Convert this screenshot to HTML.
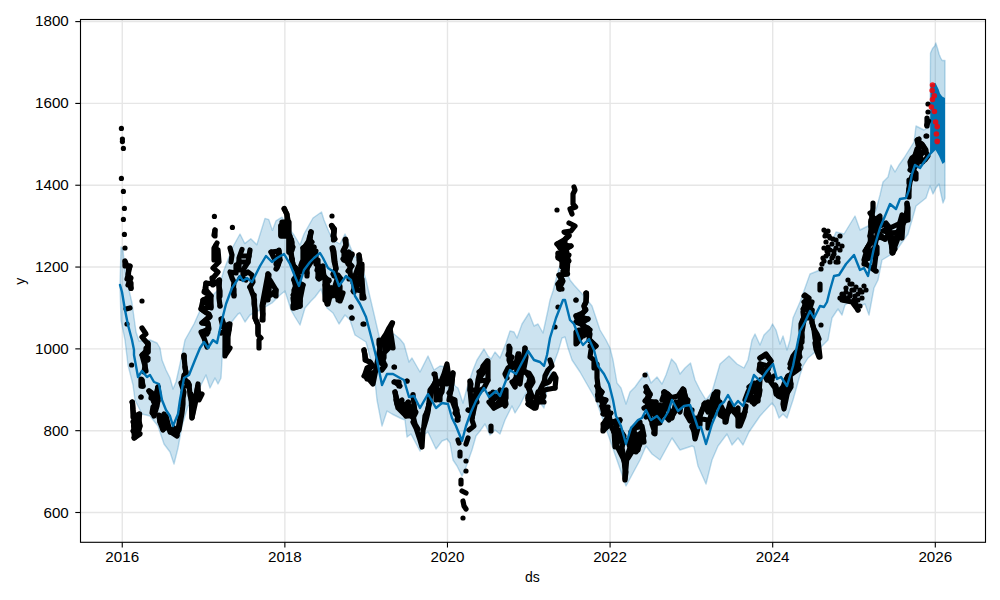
<!DOCTYPE html><html><head><meta charset="utf-8"><style>
html,body{margin:0;padding:0;background:#fff;width:1000px;height:600px;overflow:hidden}
svg{display:block}
text{font-family:"Liberation Sans",sans-serif;font-size:14px;fill:#000}
</style></head><body>
<svg width="1000" height="600" viewBox="0 0 1000 600">
<rect x="0" y="0" width="1000" height="600" fill="#fff"/>
<g stroke="#e6e6e6" stroke-width="1.39"><line x1="122.25" y1="19.5" x2="122.25" y2="542.3"/><line x1="284.86" y1="19.5" x2="284.86" y2="542.3"/><line x1="447.47" y1="19.5" x2="447.47" y2="542.3"/><line x1="610.08" y1="19.5" x2="610.08" y2="542.3"/><line x1="772.69" y1="19.5" x2="772.69" y2="542.3"/><line x1="935.30" y1="19.5" x2="935.30" y2="542.3"/><line x1="80.5" y1="512.50" x2="985.5" y2="512.50"/><line x1="80.5" y1="430.68" x2="985.5" y2="430.68"/><line x1="80.5" y1="348.87" x2="985.5" y2="348.87"/><line x1="80.5" y1="267.05" x2="985.5" y2="267.05"/><line x1="80.5" y1="185.23" x2="985.5" y2="185.23"/><line x1="80.5" y1="103.42" x2="985.5" y2="103.42"/><line x1="80.5" y1="21.60" x2="985.5" y2="21.60"/></g>
<polygon points="121.0,247.0 123.0,250.0 125.0,270.0 129.0,290.0 132.0,303.0 136.0,332.0 139.0,341.0 150.0,340.0 157.0,343.0 160.0,348.0 162.0,360.0 166.0,370.0 170.0,378.0 173.0,389.0 176.0,382.0 182.0,355.0 185.0,340.0 194.0,324.0 202.0,306.0 218.0,290.0 224.0,270.0 232.8,247.0 240.0,234.0 244.8,243.6 250.8,238.8 256.8,244.8 265.0,218.4 268.8,219.6 272.4,230.4 276.0,220.8 282.0,217.2 286.8,225.6 294.0,235.0 300.0,245.0 304.0,234.0 313.0,218.0 321.5,212.0 324.0,220.0 329.0,232.0 333.0,240.0 340.0,244.0 345.0,234.0 348.0,241.0 354.0,256.0 360.0,260.0 366.0,280.0 374.0,314.0 380.0,340.0 394.0,334.0 400.0,339.0 404.0,344.0 409.0,362.0 412.0,358.0 420.0,372.0 428.0,356.0 434.0,370.0 440.0,366.0 446.0,367.0 452.0,378.0 455.0,386.0 458.0,388.0 463.0,403.0 467.0,388.0 473.0,370.0 477.0,360.0 484.0,349.0 488.0,356.0 491.0,359.0 495.0,352.0 500.0,358.0 506.0,343.0 510.0,331.0 514.0,332.0 517.0,338.0 522.0,324.0 529.0,313.0 534.0,326.0 538.0,324.0 543.0,333.0 548.0,310.0 550.0,300.0 553.0,291.0 559.0,268.0 566.0,269.0 570.0,280.0 574.0,285.0 584.0,296.0 592.0,306.0 600.0,330.0 606.0,340.0 610.0,348.0 613.0,360.0 617.0,383.0 621.0,388.0 626.0,404.0 630.0,392.0 635.0,387.0 640.0,380.0 647.0,372.0 651.0,383.0 657.0,377.0 662.0,384.0 666.0,375.0 671.5,359.0 676.0,364.0 680.0,374.0 685.0,368.0 690.5,363.0 695.0,380.0 700.0,390.0 706.0,400.0 712.0,392.0 720.0,364.0 729.0,356.0 737.0,364.0 744.0,368.0 748.0,360.0 752.0,340.0 755.0,334.0 760.0,345.0 764.0,335.0 770.0,329.0 772.5,324.0 776.0,330.0 780.0,344.0 783.0,336.0 787.0,350.0 790.0,340.0 793.0,318.0 800.0,302.0 810.0,274.0 820.0,270.0 836.0,232.0 844.0,234.0 855.0,216.0 860.0,230.0 868.0,226.0 876.0,210.0 880.0,195.0 883.0,182.0 888.0,177.0 891.0,165.0 895.0,172.0 899.0,165.0 904.0,158.0 914.0,142.0 916.0,126.0 920.0,128.0 924.0,130.0 930.0,126.0 930.5,53.0 932.5,48.5 934.7,46.0 935.8,43.0 937.7,49.0 939.2,54.5 940.7,58.0 942.2,60.5 945.0,60.5 945.0,198.0 943.0,203.0 941.0,194.0 939.0,184.0 936.0,188.0 933.0,194.0 930.0,186.0 930.0,186.0 926.0,198.0 916.0,206.0 908.0,234.0 898.0,248.0 892.0,254.0 882.0,260.0 878.0,280.0 874.0,288.0 869.0,315.0 865.0,304.0 862.0,305.0 856.0,305.0 850.0,302.0 845.0,305.0 842.0,315.0 838.0,309.0 832.0,318.0 828.0,340.0 820.0,348.0 808.0,358.0 803.0,366.0 800.0,375.0 793.0,400.0 787.0,418.0 783.0,414.0 779.0,418.0 775.0,407.0 772.0,403.0 760.0,416.0 749.0,432.0 743.0,445.0 738.0,438.0 732.0,445.0 727.0,434.0 718.0,446.0 712.0,460.0 706.0,484.0 698.0,466.0 694.0,447.0 692.0,446.0 680.0,450.0 672.0,438.0 660.0,460.0 652.0,454.0 646.0,446.0 640.0,460.0 626.0,486.0 610.0,440.0 596.0,400.0 580.0,372.0 572.0,360.0 568.0,348.0 565.0,337.0 562.0,338.0 558.0,352.0 552.0,368.0 549.0,380.0 547.0,390.0 544.0,408.0 538.0,400.0 533.0,396.0 530.0,390.0 526.0,393.0 520.0,405.0 515.0,413.0 512.0,406.0 505.0,420.0 500.0,434.0 495.0,430.0 490.0,435.0 485.0,424.0 480.0,431.0 476.0,436.0 472.0,450.0 466.0,467.0 462.0,476.0 457.0,466.0 453.0,460.0 450.0,443.0 447.0,439.0 442.0,441.0 436.0,449.0 428.0,432.0 425.0,434.0 420.0,451.0 411.0,434.0 407.0,437.0 405.0,420.0 400.0,418.0 392.0,414.0 387.0,411.0 382.0,426.0 377.0,400.0 374.0,372.0 366.0,342.0 355.0,335.0 350.0,320.0 345.0,315.0 339.0,324.0 333.0,313.0 327.0,308.0 321.0,289.0 315.0,297.0 311.0,301.0 305.0,308.0 300.0,325.0 295.0,317.0 291.0,310.0 285.0,291.0 280.0,295.0 272.0,303.0 260.0,310.0 250.0,315.0 245.0,322.0 240.0,313.0 238.0,314.0 230.0,324.0 224.0,340.0 222.0,360.0 221.0,378.0 218.0,384.0 215.0,378.0 210.0,388.0 206.0,375.0 200.0,387.0 196.0,400.0 188.0,406.0 182.0,426.0 178.0,448.0 174.0,464.0 170.0,452.0 164.0,444.0 158.0,426.0 150.0,416.0 142.0,414.0 135.0,400.0 133.0,385.0 128.0,365.0 125.0,340.0 121.0,320.0 120.0,286.0" fill="#0072B2" fill-opacity="0.2" stroke="#0072B2" stroke-opacity="0.25" stroke-width="1.4" stroke-linejoin="round"/>
<polygon points="930.5,53.0 932.5,48.5 934.7,46.0 935.8,43.0 937.7,49.0 939.2,54.5 940.7,58.0 942.2,60.5 945.0,60.5 945.0,198.0 943.0,203.0 941.0,194.0 939.0,184.0 936.0,188.0 933.0,194.0 930.0,186.0" fill="#0072B2" fill-opacity="0.05"/>
<polygon points="930.5,84.5 935.5,83.0 938.5,89.0 940.0,93.5 942.2,96.5 945.0,98.0 945.0,162.0 942.5,164.0 939.0,156.0 935.0,149.0 930.0,155.0" fill="#0072B2"/>
<g fill="#000" stroke="#000" stroke-width="5.2" stroke-linejoin="round" stroke-linecap="round"><polyline points="125.0,261.0 127.0,266.0 130.0,266.0 128.0,274.0 130.0,279.0 129.0,283.0 131.0,288.0" fill="none"/><polyline points="130.0,308.0 126.0,309.0" fill="none"/><polyline points="142.0,328.0 146.0,334.0 142.0,337.0 148.0,344.0 148.0,352.0 143.0,355.0 148.0,360.0" fill="none"/><polyline points="217.0,243.0 214.0,248.0 214.0,260.0 218.0,250.0 219.0,262.0 213.0,268.0 218.0,272.0 213.0,278.0 213.0,285.0 219.6,280.0 219.0,287.0 219.0,298.0 220.0,306.0" fill="none"/><polyline points="206.0,283.0 206.0,290.0 211.0,296.0 211.0,308.0 203.0,300.0 201.0,309.0 208.0,314.0 210.0,316.0 202.0,323.0 208.0,324.0 208.0,332.0 201.0,332.0 204.0,338.0 207.0,347.0" fill="none"/><polyline points="222.0,319.0 225.0,328.0 225.0,356.0 230.0,324.0 228.0,336.0 228.0,348.0" fill="none"/><polyline points="242.0,249.5 239.0,258.0 239.0,270.0 236.0,265.0 236.0,273.0 230.0,272.0 232.0,278.0 234.0,282.0 233.0,292.0 234.0,295.0" fill="none"/><polyline points="250.0,250.0 249.0,256.0 248.0,262.0 243.0,270.0 243.0,275.0 248.0,272.0 252.0,275.0 253.0,282.0 250.0,287.0" fill="none"/><polyline points="239.0,262.0 248.0,262.0" fill="none"/><polyline points="243.0,256.0 249.0,256.0" fill="none"/><polyline points="240.0,278.0 246.0,280.0" fill="none"/><polyline points="271.0,252.0 274.0,258.0 280.0,260.0 279.0,250.0" fill="none"/><polyline points="278.0,265.0 276.0,269.0" fill="none"/><polyline points="268.0,274.0 269.0,280.0 270.0,283.0 267.0,290.0 268.0,296.0" fill="none"/><polyline points="276.0,290.0 275.0,295.0" fill="none"/><polyline points="230.0,248.0 232.0,255.0 231.0,262.0" fill="none"/><polyline points="250.0,287.0 253.0,295.0 254.5,300.0 254.5,303.0 255.0,311.0 255.0,318.0 258.0,325.0 258.0,335.0 261.0,338.0" fill="none"/><polyline points="263.0,314.0 263.0,320.0 262.0,306.0 268.0,274.0 268.0,300.0 270.0,280.0 276.0,290.0 276.0,296.0" fill="none"/><polyline points="271.0,252.0 279.0,251.0 276.0,264.0 280.0,260.0 277.0,268.0" fill="none"/><polyline points="290.0,240.0 290.0,250.0 292.0,259.0 293.0,266.0 297.0,270.0 297.0,286.0 294.0,290.0 294.0,308.0 300.0,306.0 300.0,290.0" fill="none"/><polyline points="303.0,248.0 303.0,266.0 307.0,252.0 307.0,276.0" fill="none"/><polyline points="215.0,230.0 214.0,235.0" fill="none"/><polyline points="284.4,208.4 287.0,215.0 288.0,220.0 287.0,224.0 281.0,226.0 281.0,236.0 290.0,236.0" fill="none"/><polyline points="284.0,209.0 287.0,214.0 287.0,226.0" fill="none"/><polyline points="289.0,236.0 289.0,252.0 292.0,242.0 292.0,250.0" fill="none"/><polyline points="292.0,259.0 293.0,265.0 297.0,269.0 297.0,276.0 294.0,280.0 296.0,288.0 296.0,296.0 293.0,298.0 294.0,306.0 300.0,306.0 300.0,300.0 303.0,285.0" fill="none"/><polyline points="311.0,232.0 310.0,239.0 304.0,248.0 308.0,248.0 308.0,262.0 314.0,248.0 304.0,262.0 301.0,266.0 301.0,272.0 306.0,270.0 316.0,254.0 316.0,264.0 318.0,260.0 318.0,268.0 318.0,277.0 320.0,266.0 320.0,274.0 323.0,266.0 323.0,276.0" fill="none"/><polyline points="325.0,280.0 325.0,300.0 328.0,286.0 328.0,304.0 332.0,288.0 332.0,296.0 338.0,276.0 338.0,300.0 340.0,286.0 340.0,300.0" fill="none"/><polyline points="332.0,226.0 334.0,230.0 334.0,238.0" fill="none"/><polyline points="333.0,248.0 334.0,252.0 335.0,262.0 336.0,268.0 334.0,276.0" fill="none"/><polyline points="346.0,240.0 346.0,246.0 344.0,250.0 344.0,260.0 349.0,252.0 349.0,262.0 352.0,254.0 348.0,264.0 350.0,266.0 350.0,272.0 351.0,278.0 354.0,276.0 354.0,292.0" fill="none"/><polyline points="359.0,255.0 359.0,260.0 360.0,266.0 360.0,280.0 362.0,264.0 362.0,270.0 361.0,280.0 361.0,284.0 357.0,284.0 357.0,290.0 362.0,291.0 362.0,298.0" fill="none"/><polyline points="148.0,343.0 148.0,352.0 146.0,348.0 146.0,360.0 142.0,355.0 145.0,366.0 144.0,372.0" fill="none"/><polyline points="141.0,379.0 141.0,386.0 143.0,386.0" fill="none"/><polyline points="149.0,391.0 151.0,394.0 153.0,400.0 155.0,404.0 153.0,412.0 154.0,416.0 157.0,406.0 159.0,394.0 158.0,387.0" fill="none"/><polyline points="132.4,402.0 133.0,410.0 134.0,418.0 133.6,426.0 134.4,438.0 138.0,434.0 140.0,426.0 139.0,420.0 139.6,414.0" fill="none"/><polyline points="159.0,416.0 160.0,422.0 163.0,430.0 166.0,416.0 168.0,424.0 170.0,432.0 174.0,428.0 177.0,435.0 179.0,424.0 181.0,412.0" fill="none"/><polyline points="183.0,392.0 182.0,404.0" fill="none"/><polyline points="184.0,356.0 185.0,367.0 186.0,373.0 184.0,378.0 187.0,382.0 187.0,386.0 189.0,385.0" fill="none"/><polyline points="191.0,394.0 192.0,418.0 194.0,404.0 198.0,386.0 199.0,400.0 202.0,394.0" fill="none"/><polyline points="227.0,340.0 226.0,354.0 230.0,348.0" fill="none"/><polyline points="259.0,340.0 259.0,348.0" fill="none"/><polyline points="364.0,350.0 365.0,356.0 366.0,360.0 370.0,362.0 372.0,366.0 364.0,376.0 368.0,378.0 373.0,384.0 375.0,374.0 378.0,358.0 380.0,348.0 382.0,340.0 386.0,334.0 389.0,328.0 392.0,323.0" fill="none"/><polyline points="380.0,352.0 383.0,360.0 385.0,366.0 382.0,370.0" fill="none"/><polyline points="390.0,328.0 393.0,348.0" fill="none"/><polyline points="394.0,382.0 399.0,382.0 399.0,386.0" fill="none"/><polyline points="395.0,392.0 397.0,400.0 400.0,404.0 404.0,409.0 408.0,414.0 412.0,416.0 415.0,412.0 413.0,396.0" fill="none"/><polyline points="426.0,416.0 429.0,404.0 432.0,390.0 436.0,380.0 440.0,384.0 444.0,374.0 447.0,364.0 449.0,378.0 453.0,373.0 451.0,390.0 449.0,400.0 454.0,400.0 457.0,412.0 458.0,420.0" fill="none"/><polyline points="436.0,384.0 436.0,400.0" fill="none"/><polyline points="440.0,390.0 440.0,400.0" fill="none"/><polyline points="470.0,382.0 470.0,390.0 472.0,410.0 476.0,396.0 478.0,380.0 480.0,372.0 484.0,366.0 488.0,361.0 488.0,380.0 484.0,388.0 478.0,392.0 472.0,418.0" fill="none"/><polyline points="490.0,394.0 494.0,408.0 500.0,400.0 504.0,392.0 506.0,404.0" fill="none"/><polyline points="510.0,348.0 509.0,360.0 512.0,368.0 516.0,364.0 518.0,354.0 516.0,380.0 520.0,384.0 525.0,348.0 524.0,360.0 523.0,368.0" fill="none"/><polyline points="526.0,372.0 530.0,378.0 528.0,386.0 532.0,396.0 528.0,404.0 534.0,408.0 538.0,392.0" fill="none"/><polyline points="396.0,400.0 398.0,408.0 402.0,412.0 406.0,416.0 412.0,416.0 415.0,412.0 410.0,410.0 406.0,404.0" fill="none"/><polyline points="413.0,422.0 416.0,428.0 418.0,434.0 420.0,440.0 422.0,447.0 423.0,430.0 426.0,420.0 428.0,412.0 429.0,404.0" fill="none"/><polyline points="452.0,400.0 455.0,408.0 458.0,416.0 457.0,420.0" fill="none"/><polyline points="458.0,440.0 459.0,443.0" fill="none"/><polyline points="460.0,452.0 460.0,456.0" fill="none"/><polyline points="466.0,444.0 468.0,438.0" fill="none"/><polyline points="461.0,480.0 461.0,484.0" fill="none"/><polyline points="462.0,491.0 466.0,493.0" fill="none"/><polyline points="463.0,501.0 464.0,506.0 466.0,509.0" fill="none"/><polyline points="468.0,410.0 473.0,412.0 472.0,420.0 474.0,426.0 469.0,430.0" fill="none"/><polyline points="489.0,402.0 494.0,408.0 502.0,404.0 505.0,400.0" fill="none"/><polyline points="491.0,426.0 491.0,431.0" fill="none"/><polyline points="528.0,404.0 534.0,407.0 538.0,402.0 544.0,402.0" fill="none"/><polyline points="574.0,187.0 575.0,190.0 573.0,194.0 573.0,204.0 575.6,207.0 570.0,209.0 572.0,214.0" fill="none"/><polyline points="569.0,223.0 575.0,226.0 571.0,231.0 564.0,232.0 569.0,235.0 564.0,240.0 557.0,244.0 571.0,246.0 560.0,248.0 566.0,250.0 566.0,262.0 558.0,254.0 558.0,258.0 562.0,260.0 562.0,266.0 568.0,258.0 567.0,274.0 559.0,275.0 562.0,280.0 558.0,284.0 559.0,288.0" fill="none"/><polyline points="560.0,282.0 563.0,281.0 559.0,289.0 562.0,289.0" fill="none"/><polyline points="586.0,293.0 586.0,302.0 584.0,306.0 585.0,310.0 582.0,314.0 582.0,318.0 576.0,316.0 578.0,322.0 588.0,319.0 583.0,322.0 583.0,336.0 576.0,332.0 576.0,344.0 588.0,328.0 590.0,334.0 589.0,340.0 596.0,346.0 591.0,350.0 590.0,357.0 594.0,360.0 594.0,368.0 597.0,364.0 597.0,376.0 597.0,378.0 598.0,386.0 598.0,400.0 602.0,392.0" fill="none"/><polyline points="550.0,360.0 552.0,366.0 548.0,370.0 545.0,376.0 544.0,384.0 549.0,382.0 554.0,374.0 556.0,378.0 555.0,388.0 544.0,390.0 542.0,396.0" fill="none"/><polyline points="646.0,387.0 648.0,394.0 648.0,400.0 650.0,394.0" fill="none"/><polyline points="664.0,393.0 670.0,398.0 678.0,396.0 683.0,389.0 686.0,398.0" fill="none"/><polyline points="716.0,392.0 716.0,400.0" fill="none"/><polyline points="597.0,386.0 600.0,392.0 599.0,398.0 605.0,400.0 602.0,406.0 604.0,414.0 608.0,410.0 610.0,420.0 603.0,424.0 604.0,430.0 612.0,422.0 620.0,420.0 614.0,432.0" fill="none"/><polyline points="615.0,436.0 617.0,446.0 620.0,452.0 623.0,458.0 625.0,464.0 626.0,472.0 625.0,479.0 627.0,456.0 630.0,448.0 628.0,440.0" fill="none"/><polyline points="631.0,432.0 634.0,440.0 638.0,450.0 640.0,440.0 644.0,436.0 642.0,426.0 638.0,424.0 634.0,430.0" fill="none"/><polyline points="646.0,387.0 650.0,394.0 647.0,400.0 648.0,410.0 650.0,418.0 654.0,426.0 655.0,434.0 656.0,402.0 652.0,408.0 660.0,410.0 658.0,420.0" fill="none"/><polyline points="664.0,392.0 668.0,394.0 666.0,400.0 663.0,410.0 668.0,408.0 672.0,416.0 676.0,410.0 680.0,400.0 684.0,390.0 686.0,402.0 689.0,408.0 690.0,416.0 692.0,420.0" fill="none"/><polyline points="692.0,426.0 694.0,432.0 695.0,439.0 698.0,428.0 700.0,420.0" fill="none"/><polyline points="700.0,416.0 704.0,406.0 708.0,402.0 712.0,412.0 714.0,398.0 718.0,392.0 716.0,406.0 720.0,404.0 724.0,412.0 726.0,422.0 728.0,410.0" fill="none"/><polyline points="732.0,410.0 736.0,414.0 740.0,420.0 740.0,426.0 744.0,416.0 746.0,406.0" fill="none"/><polyline points="748.0,400.0 752.0,392.0 756.0,384.0 760.0,380.0 759.0,392.0 758.0,400.0 754.0,404.0" fill="none"/><polyline points="770.0,381.0 775.0,388.0 776.0,394.0" fill="none"/><polyline points="704.0,404.0 708.0,412.0 714.0,394.0 717.0,393.0 716.0,404.0 712.0,416.0" fill="none"/><polyline points="722.0,410.0 726.0,416.0 732.0,408.0 736.0,414.0 742.0,416.0 745.0,412.0" fill="none"/><polyline points="745.0,400.0 748.0,392.0 750.0,388.0 754.0,384.0 758.0,388.0 756.0,396.0 752.0,402.0 758.0,401.0" fill="none"/><polyline points="760.0,358.0 766.0,355.0 771.0,361.0 768.0,370.0 762.0,370.0 760.0,364.0 764.0,374.0 770.0,379.0 774.0,376.0" fill="none"/><polyline points="776.0,386.0 777.0,394.0 782.0,388.0 784.0,396.0 783.0,404.0 784.0,409.0 788.0,390.0 791.0,384.0 788.0,376.0 786.0,380.0" fill="none"/><polyline points="790.0,364.0 793.0,356.0 796.0,352.0 800.0,348.0 798.0,360.0 796.0,368.0 792.0,372.0" fill="none"/><polyline points="802.0,342.0 802.0,332.0 804.0,320.0 803.0,312.0 805.0,304.0 808.0,300.0 810.0,308.0 812.0,302.0" fill="none"/><polyline points="812.0,322.0 814.0,330.0 815.0,338.0 817.0,346.0 819.0,350.0 820.0,357.0 818.0,340.0 816.0,334.0" fill="none"/><polyline points="842.0,300.0 852.0,302.0 858.0,310.0" fill="none"/><polyline points="804.0,296.0 808.0,298.0 810.0,304.0 806.0,308.0 810.0,312.0 812.0,318.0 804.0,318.0" fill="none"/><polyline points="820.0,284.0 820.0,290.0" fill="none"/><polyline points="873.0,203.0 873.0,208.0 872.0,216.0 871.0,222.0 872.0,228.0 871.0,236.0 870.0,243.0 867.0,248.0 866.0,253.0 864.0,260.0 866.0,264.0 874.0,270.0 876.0,254.0 875.0,246.0 880.0,218.0 881.0,224.0" fill="none"/><polyline points="878.0,228.0 882.0,222.0 886.0,226.0 889.0,232.0 890.0,240.0 892.0,246.0 893.0,253.0 895.0,246.0 898.0,238.0 900.0,230.0 902.0,224.0 904.0,218.0" fill="none"/><polyline points="907.0,203.0 907.0,210.0 906.0,216.0 904.0,222.0 901.0,228.0 900.0,236.0" fill="none"/><polyline points="908.0,196.0 909.0,188.0 910.0,182.0 912.0,176.0 915.0,178.0 914.0,170.0 911.0,168.0 910.0,162.0 912.0,158.0 915.0,156.0 918.0,150.0 920.0,146.0 922.0,144.0 924.0,148.0 926.0,152.0 928.0,156.0 925.0,160.0 921.0,160.0 920.0,154.0 917.0,140.0 919.0,139.0" fill="none"/><polyline points="927.0,126.0 927.0,118.0" fill="none"/><polyline points="597.0,386.0 600.0,390.0 602.0,392.0 597.5,395.0 599.0,398.0 606.0,400.0 602.0,406.0 608.0,407.0 603.0,414.0 611.0,413.0 607.0,418.0 604.0,423.0 603.0,429.0 613.0,422.0 620.0,420.0 615.0,428.0 618.0,433.0 620.0,439.0" fill="none"/><polyline points="601.0,400.0 606.0,412.0 609.0,420.0 612.0,428.0 616.0,436.0" fill="none"/><polyline points="646.0,392.0 650.0,395.0 645.0,401.0 656.0,402.0 644.0,408.0 650.0,405.0 650.0,410.0 655.0,412.0 646.0,417.0 659.0,410.0 664.0,405.0 664.0,409.0 660.0,418.0 660.0,423.0 652.0,424.0 654.0,430.0 654.0,433.0" fill="none"/><polyline points="640.0,422.0 640.0,427.0 633.0,428.0 633.0,440.0 642.0,432.0 642.0,440.0 637.0,435.0" fill="none"/><polyline points="664.0,392.0 666.0,396.0" fill="none"/><polyline points="614.0,430.0 615.0,447.0 619.0,440.0 620.0,430.0 624.0,436.0 622.0,448.0 624.0,458.0 625.0,470.0 625.0,480.0" fill="none"/><polyline points="628.0,458.0 633.0,450.0 630.0,440.0 634.0,432.0 638.0,438.0 636.0,452.0 640.0,444.0 643.0,436.0 644.0,442.0" fill="none"/><polyline points="662.0,400.0 665.0,392.0 670.0,396.0 668.0,408.0 672.0,418.0 676.0,402.0 680.0,412.0 683.0,389.0 684.0,404.0 688.0,400.0 686.0,414.0 690.0,421.0 692.0,410.0" fill="none"/><polyline points="660.0,405.0 664.0,414.0 669.0,420.0" fill="none"/><polyline points="705.0,403.0 700.0,415.0 700.0,425.0 692.0,427.0 696.0,418.0 708.0,420.0 708.0,428.0 712.0,410.0 716.0,392.0 718.0,400.0 714.0,404.0" fill="none"/><polyline points="720.0,402.0 720.0,415.0 725.0,418.0 725.0,422.0 730.0,403.0 734.0,412.0 738.0,408.0 738.0,426.0" fill="none"/><polyline points="749.0,387.0 754.0,383.0 758.0,384.0 760.0,390.0 759.0,396.0 753.0,398.0 748.0,396.0 751.0,392.0 756.0,390.0 754.0,388.0" fill="none"/><polyline points="760.0,358.0 766.0,354.0 771.0,361.0 768.0,366.0 760.0,364.0 759.0,370.0 763.0,373.0 768.0,373.0 770.0,378.0 767.0,380.0 765.0,376.0 772.0,380.0" fill="none"/><polyline points="775.0,385.0 777.0,392.0 778.0,396.0 783.0,398.0 782.0,390.0 784.0,384.0 787.0,378.0 790.0,375.0 791.0,387.0 788.0,392.0 785.0,386.0" fill="none"/><polyline points="800.0,340.0 801.0,348.0 798.0,352.0 800.0,357.0 796.0,361.0 799.0,365.0 792.0,365.0 790.0,368.0 796.0,370.0 799.0,369.0 792.0,374.0 788.0,376.0" fill="none"/><polyline points="815.0,343.0 816.0,349.0 819.0,357.0" fill="none"/><polyline points="805.0,295.0 809.0,298.0 804.0,302.0 810.0,302.0 803.0,309.0 812.0,310.0 803.0,319.0 801.0,324.0 801.0,330.0 802.0,337.0" fill="none"/><polyline points="812.0,310.0 812.0,323.0 814.0,329.0 817.0,334.0 819.0,339.0" fill="none"/><polyline points="870.0,236.0 871.0,243.0 868.0,247.0 865.0,251.0 869.0,253.0 875.0,250.0 876.0,254.0 865.0,260.0 864.0,264.0" fill="none"/><polyline points="875.0,239.0 880.0,237.0 885.0,239.0 871.0,227.0 871.0,222.0 877.0,227.0 885.0,224.0 889.0,230.0 891.0,240.0 892.0,252.0" fill="none"/><polyline points="909.0,180.0 909.0,183.0" fill="none"/><polyline points="909.0,189.0 909.0,197.0" fill="none"/><polyline points="910.0,170.0 916.0,173.0 916.0,179.0" fill="none"/><polyline points="907.0,204.0 908.0,208.0 908.0,220.0 902.0,215.0 900.0,222.0 900.0,230.0" fill="none"/><polyline points="870.0,213.0 875.0,220.0 880.0,216.0 872.0,226.0 878.0,230.0" fill="none"/><polyline points="886.0,223.0 890.0,228.0 883.0,231.0 893.0,233.0 888.0,235.0 896.0,240.0 893.0,244.0 895.0,249.0 892.0,253.0 898.0,232.0 900.0,226.0 902.0,238.0 903.0,222.0 907.0,220.0 890.0,228.0" fill="none"/><polyline points="885.0,239.0 888.0,235.0" fill="none"/><polyline points="893.0,233.0 898.0,232.0" fill="none"/><polyline points="871.0,220.0 871.0,229.0 870.0,236.0 875.0,239.0 870.0,243.0 866.0,250.0 868.0,253.0 877.0,247.0 877.0,254.0 865.0,260.0 866.0,264.0" fill="none"/><polyline points="125.0,262.0 125.0,266.0 130.0,266.0 128.5,270.0 128.5,274.0 127.0,279.0 131.0,278.0 128.0,285.0 131.0,283.0 131.0,288.5" fill="none"/><polyline points="132.0,402.0 132.5,403.0 133.0,411.0 133.0,417.0 139.0,414.0 139.0,420.0 133.0,422.0 135.0,425.0 140.0,426.0 133.0,431.0 140.0,434.0 134.0,438.0" fill="none"/><polyline points="142.0,380.0 142.0,386.0" fill="none"/><polyline points="149.0,391.0 152.0,393.0 151.0,398.0 157.0,393.0 158.0,387.0 154.0,402.0 158.0,401.0 153.0,407.0 152.0,413.0 154.0,415.0" fill="none"/><polyline points="159.0,415.0 160.0,422.0 164.0,414.0 166.0,420.0 163.0,429.0 168.0,427.0 171.0,432.0 176.0,434.0 179.0,430.0 182.0,413.0 183.0,404.0 183.0,398.0 184.0,392.0 181.0,383.0" fill="none"/><polyline points="177.0,436.0 171.0,432.0" fill="none"/><polyline points="189.0,384.0 190.0,395.0 192.0,403.0 192.0,412.0 192.0,418.0 196.0,400.0 197.0,390.0 198.0,384.0" fill="none"/><polyline points="392.5,323.0 390.0,329.0 390.0,334.0 387.0,334.0 387.0,338.0 385.0,342.0 385.0,350.0 390.0,340.0 390.0,347.0 384.0,353.0 384.0,358.0 379.0,360.0 382.0,364.0 385.0,365.0 381.0,370.0" fill="none"/><polyline points="379.0,340.0 379.0,344.0 380.0,348.0 380.0,353.0" fill="none"/><polyline points="364.0,350.0 365.0,355.0 365.0,360.0 370.0,362.0 372.0,365.0 367.0,368.0 365.0,374.0 370.0,374.0 375.0,372.0 367.0,379.0 373.0,379.0" fill="none"/><polyline points="394.5,382.0 400.0,386.0" fill="none"/><polyline points="395.0,392.0 396.0,398.0 397.0,404.0 402.0,400.0 400.0,408.0 405.0,410.0 406.0,416.0 411.0,410.0 413.0,416.0 415.0,424.0 418.0,429.0" fill="none"/><polyline points="424.0,425.0 425.0,416.0 428.0,410.0 429.0,403.0 430.0,390.0 433.0,386.0 436.0,381.0 435.0,374.0 437.0,390.0 439.0,397.0 442.0,392.0 443.0,383.0 445.0,376.0 447.0,370.0 447.0,384.0 453.0,373.0 451.0,390.0 449.0,393.0" fill="none"/><polyline points="450.0,398.0 455.0,400.0 455.0,406.0 457.0,410.0 455.0,413.0 458.0,417.0" fill="none"/><polyline points="487.0,361.0 483.0,366.0 487.0,367.0 479.0,372.0 484.0,372.0 481.0,376.0 479.0,381.0 488.0,380.0" fill="none"/><polyline points="470.0,381.0 471.0,384.0 470.0,390.0 477.0,390.0 475.0,396.0" fill="none"/><polyline points="509.0,346.0 509.0,352.0 508.0,355.0 512.0,357.0 510.0,361.0 514.0,364.0 508.0,368.0 505.0,374.0 507.0,378.0" fill="none"/><polyline points="519.0,354.0 520.0,360.0 516.0,366.0" fill="none"/><polyline points="525.0,348.0 526.0,357.0 525.0,363.0 524.0,368.0 523.0,372.0 529.0,373.0 532.0,378.0 533.0,382.0 530.0,387.0 527.0,386.0" fill="none"/><polyline points="516.0,378.0 513.0,382.0 515.0,386.0 517.0,380.0" fill="none"/><polyline points="493.0,392.0 493.0,400.0 500.0,394.0 506.0,390.0 506.0,398.0" fill="none"/><polyline points="528.0,396.0 528.0,400.0" fill="none"/><polyline points="287.0,226.0 289.0,235.0 291.0,239.0 290.0,244.0 293.0,247.0 291.0,251.0 292.0,259.0 293.0,265.0 296.0,269.0 299.0,272.0 294.0,279.0 299.0,277.0" fill="none"/><polyline points="311.0,232.0 309.0,239.0 312.0,242.0 303.0,248.0 308.0,245.0 314.0,247.0 308.0,251.0 316.0,251.0 304.0,254.0 307.0,257.0 302.0,262.0 301.0,265.0 305.0,261.0 306.0,270.0 307.0,273.0" fill="none"/><polyline points="315.0,258.0 318.0,267.0 317.0,270.0 323.0,270.0 324.0,276.0 319.0,279.0" fill="none"/><polyline points="332.0,226.0 334.0,231.0 333.0,236.0 335.0,239.0" fill="none"/><polyline points="332.0,248.0 333.0,252.0 334.0,261.0 335.0,265.0 336.0,269.0 333.0,274.0 338.0,275.0 341.0,279.0" fill="none"/><polyline points="345.0,240.0 346.0,245.0 343.0,251.0 347.0,253.0 352.0,255.0 343.0,259.0 349.0,263.0 352.0,266.0 348.0,271.0" fill="none"/><polyline points="359.0,255.0 360.0,260.0 359.0,265.0 357.0,270.0 355.0,276.0 358.0,280.0" fill="none"/><polyline points="294.0,280.0 303.0,285.0 295.0,288.0 298.0,290.0 293.0,295.0 299.0,296.0 295.0,299.0 300.0,301.0 293.0,305.0 293.0,308.0 300.0,306.0" fill="none"/><polyline points="318.0,278.0 324.0,276.0 329.0,281.0 325.0,285.0 327.0,290.0 331.0,288.0 332.0,295.0 326.0,299.0 327.0,304.0" fill="none"/><polyline points="339.0,279.0 339.0,285.0 339.0,291.0 336.0,296.0 341.0,299.0 343.0,293.0" fill="none"/><polyline points="355.0,278.0 353.0,283.0 357.0,287.0 353.0,291.0 362.0,279.0 363.0,294.0 364.0,298.0" fill="none"/><polyline points="212.0,278.0 213.0,284.0 206.0,283.0 205.0,289.0 204.0,292.0 211.0,296.0 203.0,300.0 210.0,301.0 211.0,307.0 201.0,309.0 205.0,312.0 209.0,314.0 210.0,317.0 202.0,323.0 208.0,323.0 209.0,329.0 202.0,332.0 207.0,334.0" fill="none"/><polyline points="219.0,280.0 219.0,286.0 220.0,291.0 220.0,296.0" fill="none"/><polyline points="221.0,319.0 223.0,327.0 229.0,324.0 229.0,330.0 221.0,333.0" fill="none"/><polyline points="234.0,289.0 234.0,296.0" fill="none"/><polyline points="254.0,295.0 254.0,304.0 255.0,310.0 255.0,318.0 258.0,325.0 258.0,333.0" fill="none"/><polyline points="269.0,275.0 268.0,281.0 267.0,288.0 266.0,292.0 265.0,298.0 263.0,305.0 263.0,313.0 262.0,320.0" fill="none"/><polyline points="271.0,295.0 274.0,292.0" fill="none"/><polyline points="917.4,140.0 923.0,145.5 926.0,150.0 921.5,154.0 917.0,149.0 914.8,156.0 920.0,159.0 923.0,162.0 911.0,161.0 917.0,165.0 912.0,170.0" fill="none"/><polyline points="926.8,125.0 928.6,121.0" fill="none"/><polyline points="569.0,236.0 564.5,240.0 565.0,242.0 557.0,244.0 560.0,248.0 566.0,249.0 567.0,253.0 558.0,253.0 569.0,255.0 558.0,257.0 561.0,260.0 569.0,261.0 564.0,261.0 563.0,264.0 562.0,267.0 567.0,266.0 563.0,271.0 567.5,274.0 559.0,275.0 562.0,279.0 558.0,284.0 560.0,289.0" fill="none"/><polyline points="571.0,246.0 566.0,249.0" fill="none"/><polyline points="586.5,293.0 586.5,297.0 586.0,302.0 584.0,306.0 586.0,310.0 583.0,313.0 576.0,316.0 588.0,319.0 580.0,319.0 576.0,322.0 581.0,324.0 587.0,328.0 590.0,330.0 579.0,330.0 577.0,334.0 589.0,334.0 581.0,336.0 577.0,343.0" fill="none"/><polyline points="590.0,340.0 596.0,346.0 590.0,346.0" fill="none"/><polyline points="148.0,344.0 147.0,350.0 142.0,355.0 148.0,358.0 145.0,360.0 145.0,366.0 146.0,371.0" fill="none"/><polyline points="142.0,380.0 143.0,386.0" fill="none"/><polyline points="184.0,355.0 184.0,358.0" fill="none"/><polyline points="185.0,367.0 186.0,373.0 184.0,375.0 183.0,381.0 188.0,382.0 189.0,386.0" fill="none"/><polyline points="158.0,387.0 157.0,394.0" fill="none"/><polyline points="331.5,225.5 334.5,229.0 333.5,234.0 333.5,240.0" fill="none"/><polyline points="311.0,232.0 310.0,238.0" fill="none"/><polyline points="215.0,230.0 215.0,236.0" fill="none"/><polyline points="216.0,245.0 216.0,252.0" fill="none"/><polyline points="280.8,225.6 280.8,235.0" fill="none"/><polyline points="289.0,235.0 289.0,252.0 291.6,240.0 291.6,249.6" fill="none"/><polyline points="398.0,402.0 404.0,406.0 410.0,414.0 413.0,418.0 416.0,412.0 410.0,406.0" fill="none"/><polyline points="527.0,385.0 530.0,392.0 528.0,398.0 534.0,404.0 536.0,408.0 538.0,398.0 542.0,400.0 544.0,396.0 540.0,390.0 544.0,382.0" fill="none"/><polyline points="500.0,390.0 505.0,395.0 502.0,402.0 505.0,406.0" fill="none"/><polyline points="512.0,382.0 515.0,387.0" fill="none"/><polygon points="282.0,222.0 289.0,222.0 289.0,236.0 282.0,236.0"/></g>
<g fill="#000"><circle cx="125" cy="248" r="2.6"/><circle cx="142" cy="301" r="2.6"/><circle cx="127" cy="324" r="2.6"/><circle cx="184" cy="356" r="2.6"/><circle cx="254" cy="295" r="2.6"/><circle cx="121.4" cy="128.4" r="2.6"/><circle cx="122.4" cy="139" r="2.6"/><circle cx="122.4" cy="141.6" r="2.6"/><circle cx="123.4" cy="148.4" r="2.6"/><circle cx="121.4" cy="178.4" r="2.6"/><circle cx="123.4" cy="191.4" r="2.6"/><circle cx="124.4" cy="208.4" r="2.6"/><circle cx="123.4" cy="219.4" r="2.6"/><circle cx="124.4" cy="234.4" r="2.6"/><circle cx="214.4" cy="216.4" r="2.6"/><circle cx="232.4" cy="227.4" r="2.6"/><circle cx="332" cy="216" r="2.6"/><circle cx="351" cy="307" r="2.6"/><circle cx="352" cy="318" r="2.6"/><circle cx="131.6" cy="365" r="2.6"/><circle cx="141" cy="397" r="2.6"/><circle cx="340" cy="301" r="2.6"/><circle cx="363" cy="324" r="2.6"/><circle cx="394" cy="367" r="2.6"/><circle cx="407" cy="381" r="2.6"/><circle cx="408" cy="402" r="2.6"/><circle cx="466" cy="461" r="2.6"/><circle cx="466" cy="471" r="2.6"/><circle cx="463" cy="518" r="2.6"/><circle cx="477" cy="402" r="2.6"/><circle cx="557" cy="210" r="2.6"/><circle cx="558" cy="307" r="2.6"/><circle cx="555" cy="327" r="2.6"/><circle cx="576" cy="300" r="2.6"/><circle cx="645" cy="375" r="2.6"/><circle cx="821" cy="325" r="2.6"/><circle cx="885" cy="239" r="2.6"/><circle cx="876" cy="271" r="2.6"/><circle cx="926" cy="136" r="2.6"/><circle cx="928" cy="112" r="2.6"/><circle cx="928" cy="104" r="2.6"/><circle cx="603" cy="431" r="2.6"/><circle cx="654" cy="433" r="2.6"/><circle cx="876" cy="271" r="2.6"/><circle cx="141" cy="397" r="2.6"/><circle cx="394.5" cy="367" r="2.6"/><circle cx="434" cy="374" r="2.6"/><circle cx="407" cy="381" r="2.6"/><circle cx="413" cy="394.5" r="2.6"/><circle cx="408.5" cy="402" r="2.6"/><circle cx="329" cy="280" r="2.6"/><circle cx="349" cy="279" r="2.6"/><circle cx="351" cy="307" r="2.6"/><circle cx="352" cy="318" r="2.6"/><circle cx="364" cy="324" r="2.6"/><circle cx="220" cy="306" r="2.6"/><circle cx="250" cy="287" r="2.6"/><circle cx="926.8" cy="136" r="2.6"/><circle cx="586" cy="293" r="2.6"/><circle cx="576" cy="300" r="2.6"/><circle cx="150" cy="392" r="2.6"/><circle cx="345.5" cy="239" r="2.6"/><circle cx="555" cy="388" r="2.6"/><circle cx="824" cy="230" r="2.6"/><circle cx="828" cy="231" r="2.6"/><circle cx="830" cy="238" r="2.6"/><circle cx="836" cy="240" r="2.6"/><circle cx="840" cy="236" r="2.6"/><circle cx="826" cy="242" r="2.6"/><circle cx="832" cy="244" r="2.6"/><circle cx="824" cy="248" r="2.6"/><circle cx="830" cy="250" r="2.6"/><circle cx="836" cy="248" r="2.6"/><circle cx="840" cy="250" r="2.6"/><circle cx="826" cy="256" r="2.6"/><circle cx="832" cy="258" r="2.6"/><circle cx="838" cy="258" r="2.6"/><circle cx="838" cy="262" r="2.6"/><circle cx="822" cy="264" r="2.6"/><circle cx="821" cy="269" r="2.6"/><circle cx="828" cy="254" r="2.6"/><circle cx="834" cy="254" r="2.6"/><circle cx="825" cy="236" r="2.6"/><circle cx="823" cy="258" r="2.6"/><circle cx="848" cy="280" r="2.6"/><circle cx="852" cy="284" r="2.6"/><circle cx="846" cy="288" r="2.6"/><circle cx="842" cy="294" r="2.6"/><circle cx="840" cy="298" r="2.6"/><circle cx="844" cy="300" r="2.6"/><circle cx="850" cy="294" r="2.6"/><circle cx="854" cy="290" r="2.6"/><circle cx="858" cy="294" r="2.6"/><circle cx="862" cy="292" r="2.6"/><circle cx="864" cy="286" r="2.6"/><circle cx="862" cy="298" r="2.6"/><circle cx="858" cy="300" r="2.6"/><circle cx="856" cy="304" r="2.6"/><circle cx="858" cy="310" r="2.6"/><circle cx="850" cy="296" r="2.6"/><circle cx="846" cy="292" r="2.6"/><circle cx="857" cy="307" r="2.6"/><circle cx="826" cy="233" r="2.6"/><circle cx="833" cy="239" r="2.6"/><circle cx="838" cy="244" r="2.6"/><circle cx="828" cy="247" r="2.6"/><circle cx="834" cy="251" r="2.6"/><circle cx="830" cy="262" r="2.6"/><circle cx="836" cy="262" r="2.6"/><circle cx="824" cy="261" r="2.6"/><circle cx="842" cy="246" r="2.6"/><circle cx="829" cy="236" r="2.6"/><circle cx="827" cy="251" r="2.6"/><circle cx="833" cy="256" r="2.6"/><circle cx="850" cy="284" r="2.6"/><circle cx="856" cy="287" r="2.6"/><circle cx="848" cy="298" r="2.6"/><circle cx="844" cy="296" r="2.6"/><circle cx="860" cy="290" r="2.6"/><circle cx="854" cy="300" r="2.6"/><circle cx="860" cy="306" r="2.6"/><circle cx="866" cy="290" r="2.6"/><circle cx="852" cy="290" r="2.6"/><circle cx="855" cy="296" r="2.6"/></g>
<polyline points="120.0,285.0 122.0,292.0 125.0,310.0 128.0,325.0 132.0,340.0 134.0,350.0 134.0,355.0 138.0,377.0 142.0,371.0 147.0,377.0 150.0,375.0 154.0,382.0 159.0,384.0 162.0,400.0 166.0,410.0 170.0,416.0 173.0,426.0 178.0,414.0 180.0,400.0 184.0,378.0 189.0,375.0 195.0,360.0 200.0,348.0 204.0,342.0 208.0,348.0 213.0,340.0 217.0,343.0 222.0,320.0 226.0,304.0 232.0,288.0 240.0,276.0 243.0,281.0 247.0,278.0 252.0,282.0 260.0,266.0 266.0,256.0 272.0,262.0 277.0,258.0 284.0,254.0 290.0,264.0 294.0,274.0 299.0,286.0 304.0,270.0 310.0,262.0 314.0,258.0 320.0,253.0 323.0,258.0 328.0,268.0 334.0,272.0 339.0,286.0 346.0,276.0 351.0,280.0 355.0,296.0 360.0,304.0 366.0,317.0 372.0,340.0 377.0,360.0 382.0,385.0 387.0,374.0 393.0,374.0 400.0,378.0 404.0,380.0 409.0,397.0 414.0,396.0 420.0,408.0 428.0,394.0 436.0,408.0 442.0,403.0 448.0,404.0 452.0,418.0 456.0,426.0 462.0,441.0 466.0,426.0 471.0,412.0 476.0,401.0 484.0,388.0 489.0,397.0 496.0,391.0 500.0,396.0 510.0,370.0 516.0,374.0 528.0,351.0 534.0,360.0 540.0,362.0 544.0,366.0 547.0,355.0 550.0,338.0 556.0,318.0 563.0,300.0 565.0,300.0 570.0,320.0 574.0,324.0 580.0,340.0 583.0,345.0 589.0,339.0 594.0,350.0 598.0,366.0 604.0,374.0 609.0,384.0 613.0,400.0 616.0,416.0 621.0,426.0 626.0,444.0 631.0,428.0 638.0,420.0 642.0,418.0 646.0,410.0 651.0,420.0 657.0,416.0 662.0,422.0 668.0,412.0 672.0,400.0 678.0,411.0 684.0,406.0 690.0,405.0 694.0,416.0 698.0,428.0 701.0,427.0 706.0,444.0 712.0,424.0 720.0,405.0 724.0,402.0 728.0,395.0 734.0,406.0 738.0,401.0 743.0,406.0 748.0,393.0 754.0,375.0 760.0,381.0 767.0,371.0 773.0,364.0 777.0,379.0 781.0,377.0 787.0,386.0 793.0,366.0 800.0,331.0 805.0,322.0 810.0,311.0 814.0,318.0 820.0,306.0 824.0,307.0 827.0,302.0 830.0,290.0 834.0,276.0 839.0,275.0 846.0,264.0 854.0,255.0 860.0,270.0 864.0,268.0 868.0,276.0 874.0,248.0 880.0,228.0 890.0,204.0 896.0,209.0 900.0,199.0 906.0,198.0 909.0,190.0 912.0,174.0 915.0,165.0 920.0,168.0 924.0,162.0 930.0,154.0 935.0,149.0" fill="none" stroke="#0072B2" stroke-width="2.4" stroke-linejoin="round" stroke-linecap="round"/>
<g fill="#ff0000" fill-opacity="0.85"><circle cx="932.5" cy="85" r="2.8"/><circle cx="932.2" cy="90.5" r="2.8"/><circle cx="934.3" cy="95.7" r="2.8"/><circle cx="932.5" cy="99.5" r="2.8"/><circle cx="931.4" cy="107" r="2.8"/><circle cx="934.4" cy="111.5" r="2.8"/><circle cx="935.6" cy="122" r="2.8"/><circle cx="937.2" cy="126.6" r="2.8"/><circle cx="936.4" cy="134" r="2.8"/><circle cx="937.2" cy="141.4" r="2.8"/></g>
<rect x="80.5" y="19.5" width="905" height="522.8" fill="none" stroke="#000" stroke-width="1.11"/>
<line x1="122.25" y1="542.3" x2="122.25" y2="547.5" stroke="#000" stroke-width="1.11"/><text x="122.25" y="562" text-anchor="middle" textLength="33.8" lengthAdjust="spacingAndGlyphs">2016</text><line x1="284.86" y1="542.3" x2="284.86" y2="547.5" stroke="#000" stroke-width="1.11"/><text x="284.86" y="562" text-anchor="middle" textLength="33.8" lengthAdjust="spacingAndGlyphs">2018</text><line x1="447.47" y1="542.3" x2="447.47" y2="547.5" stroke="#000" stroke-width="1.11"/><text x="447.47" y="562" text-anchor="middle" textLength="33.8" lengthAdjust="spacingAndGlyphs">2020</text><line x1="610.08" y1="542.3" x2="610.08" y2="547.5" stroke="#000" stroke-width="1.11"/><text x="610.08" y="562" text-anchor="middle" textLength="33.8" lengthAdjust="spacingAndGlyphs">2022</text><line x1="772.69" y1="542.3" x2="772.69" y2="547.5" stroke="#000" stroke-width="1.11"/><text x="772.69" y="562" text-anchor="middle" textLength="33.8" lengthAdjust="spacingAndGlyphs">2024</text><line x1="935.30" y1="542.3" x2="935.30" y2="547.5" stroke="#000" stroke-width="1.11"/><text x="935.30" y="562" text-anchor="middle" textLength="33.8" lengthAdjust="spacingAndGlyphs">2026</text><line x1="75.3" y1="512.50" x2="80.5" y2="512.50" stroke="#000" stroke-width="1.11"/><text x="68.8" y="517.50" text-anchor="end" textLength="25.3" lengthAdjust="spacingAndGlyphs">600</text><line x1="75.3" y1="430.68" x2="80.5" y2="430.68" stroke="#000" stroke-width="1.11"/><text x="68.8" y="435.52" text-anchor="end" textLength="25.3" lengthAdjust="spacingAndGlyphs">800</text><line x1="75.3" y1="348.87" x2="80.5" y2="348.87" stroke="#000" stroke-width="1.11"/><text x="68.8" y="353.53" text-anchor="end" textLength="33.8" lengthAdjust="spacingAndGlyphs">1000</text><line x1="75.3" y1="267.05" x2="80.5" y2="267.05" stroke="#000" stroke-width="1.11"/><text x="68.8" y="271.55" text-anchor="end" textLength="33.8" lengthAdjust="spacingAndGlyphs">1200</text><line x1="75.3" y1="185.23" x2="80.5" y2="185.23" stroke="#000" stroke-width="1.11"/><text x="68.8" y="189.57" text-anchor="end" textLength="33.8" lengthAdjust="spacingAndGlyphs">1400</text><line x1="75.3" y1="103.42" x2="80.5" y2="103.42" stroke="#000" stroke-width="1.11"/><text x="68.8" y="107.58" text-anchor="end" textLength="33.8" lengthAdjust="spacingAndGlyphs">1600</text><line x1="75.3" y1="21.60" x2="80.5" y2="21.60" stroke="#000" stroke-width="1.11"/><text x="68.8" y="25.60" text-anchor="end" textLength="33.8" lengthAdjust="spacingAndGlyphs">1800</text>
<text x="532.3" y="581.5" text-anchor="middle">ds</text>
<text transform="translate(25.2,281.2) rotate(-90)" text-anchor="middle">y</text>
</svg></body></html>
